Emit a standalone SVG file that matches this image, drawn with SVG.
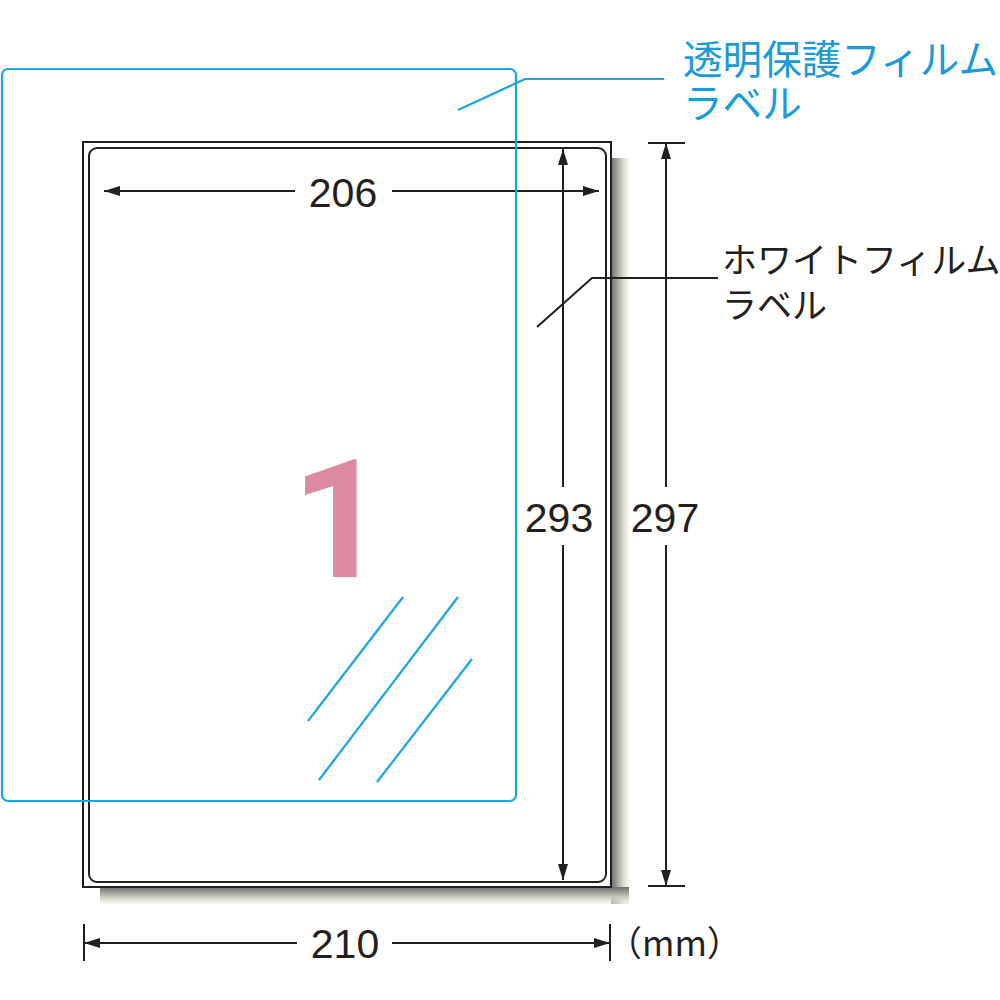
<svg xmlns="http://www.w3.org/2000/svg" width="1000" height="1000" viewBox="0 0 1000 1000">
<style>
.blk{fill:none;stroke:#231f20;stroke-width:2}
.blu{fill:none;stroke:#1ba6e0;stroke-width:2.2}
.num{font-family:"Liberation Sans",Arial,sans-serif;font-size:41px;fill:#231f20;text-anchor:middle}
.big{font-family:Roboto,"Liberation Sans",sans-serif;font-weight:700;font-size:166px;fill:#dd8aa0;text-anchor:middle}
.jp{font-family:"Noto Sans CJK JP",sans-serif;font-size:35px;fill:#231f20}
.jpb{font-family:"Noto Sans CJK JP",sans-serif;font-size:39.6px;fill:#1a9ad6}
</style>
<defs>
<linearGradient id="shR" x1="0" y1="0" x2="1" y2="0">
<stop offset="0" stop-color="#6e6e6e"/><stop offset="0.55" stop-color="#c4c4b8"/><stop offset="1" stop-color="#f2f2e4" stop-opacity="0.5"/>
</linearGradient>
<linearGradient id="shB" x1="0" y1="0" x2="0" y2="1">
<stop offset="0" stop-color="#6e6e6e"/><stop offset="0.55" stop-color="#c4c4b8"/><stop offset="1" stop-color="#f2f2e4" stop-opacity="0.5"/>
</linearGradient>
<marker id="ah" viewBox="0 0 16 10" refX="16" refY="5" markerWidth="16" markerHeight="10" markerUnits="userSpaceOnUse" orient="auto-start-reverse">
<path d="M0,0 L16,5 L0,10 Z" fill="#231f20"/>
</marker>
</defs>
<g id="shadow">
<rect x="611" y="158" width="18" height="746" fill="url(#shR)"/>
<rect x="100" y="887" width="529" height="17" fill="url(#shB)"/>
</g>
<g id="white-film-label">
<rect x="83" y="142" width="528" height="745" fill="#fff" class="blk"/>
<rect x="89" y="148" width="517" height="734" rx="8" class="blk"/>
<text class="big" x="339" y="577">1</text>
</g>
<g id="connectors">
<line x1="104" y1="191" x2="295" y2="191" class="blk" marker-start="url(#ah)"/>
<line x1="392" y1="191" x2="599" y2="191" class="blk" marker-end="url(#ah)"/>
<line x1="563" y1="149" x2="563" y2="487" class="blk" marker-start="url(#ah)"/>
<line x1="563" y1="545" x2="563" y2="880" class="blk" marker-end="url(#ah)"/>
<line x1="648" y1="143" x2="685" y2="143" class="blk"/>
<line x1="648" y1="886" x2="685" y2="886" class="blk"/>
<line x1="666" y1="143" x2="666" y2="487" class="blk" marker-start="url(#ah)"/>
<line x1="666" y1="545" x2="666" y2="886" class="blk" marker-end="url(#ah)"/>
<line x1="84" y1="924" x2="84" y2="961" class="blk"/>
<line x1="610" y1="924" x2="610" y2="961" class="blk"/>
<line x1="84" y1="943" x2="297" y2="943" class="blk" marker-start="url(#ah)"/>
<line x1="392" y1="943" x2="610" y2="943" class="blk" marker-end="url(#ah)"/>
<polyline points="537,327 592,278 718,278" class="blk"/>
<polyline points="458,110 525,79 664,79" class="blu"/>
</g>
<g id="clear-film-label">
<rect x="2" y="69" width="514" height="732" rx="6" class="blu"/>
<line x1="308" y1="721" x2="403" y2="597" class="blu"/>
<line x1="319" y1="780" x2="458" y2="597" class="blu"/>
<line x1="377" y1="782" x2="472" y2="659" class="blu"/>
</g>
<g id="labels">
<text class="num" x="343" y="207">206</text>
<text class="num" x="559" y="532">293</text>
<text class="num" x="665" y="532">297</text>
<text class="num" x="345" y="958">210</text>
<text class="jp" x="607" y="956" font-size="36">（mm）</text>
<text class="jpb" x="683" y="74">透明保護フィルム<tspan x="683" dy="44">ラベル</tspan></text>
<text class="jp" x="722" y="273">ホワイトフィルム<tspan x="722" dy="45">ラベル</tspan></text>
</g>
</svg>
